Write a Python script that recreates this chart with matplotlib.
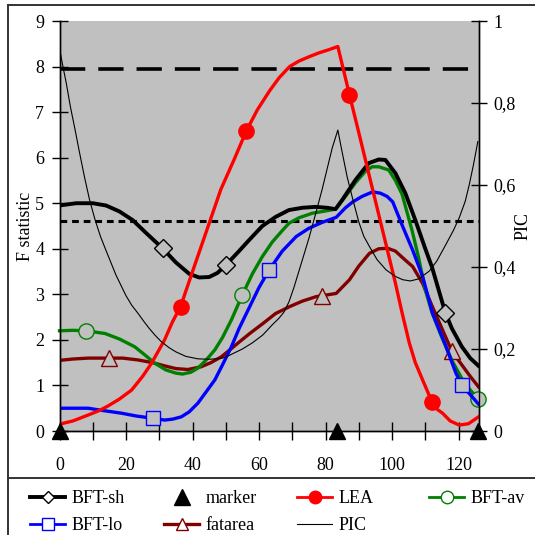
import matplotlib
matplotlib.use("Agg")
import matplotlib.pyplot as plt
from matplotlib.lines import Line2D
from matplotlib.ticker import FuncFormatter, MultipleLocator

plt.rcParams['font.family'] = ['Liberation Serif', 'DejaVu Serif']

# values
sh_x = [0, 5, 10, 14, 18, 22, 26, 31, 35, 39, 42, 45, 47.5, 50, 54, 57, 61, 65, 69, 73, 77, 80.5, 83,
        85, 89, 93, 96, 98, 101, 104, 107, 110, 112, 114, 116, 118, 121, 123.5, 126]
sh_y = [4.95, 5.0, 5.0, 4.95, 4.82, 4.63, 4.35, 4.01, 3.7, 3.45, 3.37, 3.38, 3.47, 3.64, 3.95, 4.19, 4.5,
        4.7, 4.85, 4.9, 4.92, 4.9, 4.87, 5.07, 5.51, 5.88, 5.96, 5.95, 5.66, 5.22, 4.63, 4.0, 3.6, 3.1,
        2.6, 2.25, 1.85, 1.6, 1.43]
sh_marks = [31, 50, 116]

av_x = [0, 4, 8, 13.7, 18, 22.6, 26, 28.6, 32, 35, 37, 39.5, 41.6, 44, 46.7, 49, 51.7, 55, 58, 61, 64, 67,
        69, 72, 76, 80, 83, 86, 89, 92, 94, 96, 99, 101, 103, 106, 108, 110, 112, 115, 118, 121, 123.5, 126]
av_y = [2.2, 2.21, 2.2, 2.14, 2.02, 1.85, 1.65, 1.49, 1.34, 1.27, 1.25, 1.29, 1.38, 1.55, 1.78, 2.05, 2.44,
        2.99, 3.45, 3.83, 4.15, 4.4, 4.56, 4.68, 4.78, 4.83, 4.87, 5.15, 5.45, 5.7, 5.8, 5.8, 5.73, 5.5,
        5.2, 4.41, 3.8, 3.1, 2.6, 2.05, 1.55, 1.15, 0.9, 0.7]
av_marks = [8, 55, 126]

lo_x = [0, 5, 8.6, 13, 18.7, 23, 28, 31.6, 34, 36.6, 39, 41.6, 44, 46.7, 49, 51.7, 54, 57.2, 60, 63, 67,
        71.2, 75, 79, 83.2, 86, 88.2, 91, 94.2, 96.5, 98.5, 100.2, 103.2, 106.2, 109.2, 112.2, 116, 119.2,
        121, 123.5, 126]
lo_y = [0.5, 0.5, 0.5, 0.45, 0.39, 0.33, 0.28, 0.24, 0.26, 0.31, 0.42, 0.61, 0.85, 1.12, 1.45, 1.85, 2.25,
        2.73, 3.15, 3.53, 3.95, 4.27, 4.45, 4.58, 4.69, 4.9, 5.03, 5.15, 5.25, 5.22, 5.15, 5.03, 4.49,
        3.97, 3.39, 2.58, 1.9, 1.27, 1.01, 0.8, 0.59]
lo_marks = [28, 63, 121]

fa_x = [0, 4, 8.6, 15, 19, 23.6, 28, 31.6, 35, 38.6, 42.6, 45.5, 48.7, 51.2, 54, 57.2, 61, 65, 69.2, 73,
        77.2, 79, 83.2, 87.2, 90, 93.2, 96, 98.7, 101, 104, 106.2, 109.2, 112, 115, 118, 121, 123.5, 126]
fa_y = [1.55, 1.58, 1.6, 1.6, 1.6, 1.56, 1.5, 1.43, 1.37, 1.35, 1.41, 1.5, 1.63, 1.78, 1.95, 2.14, 2.35,
        2.58, 2.73, 2.85, 2.95, 2.97, 3.02, 3.32, 3.62, 3.9, 4.0, 4.01, 3.95, 3.75, 3.61, 3.24, 2.75, 2.25,
        1.75, 1.45, 1.2, 0.97]
fa_marks = [15, 79, 118]

lea_x = [0, 4, 8.6, 12, 14.6, 18, 21.7, 25, 27.7, 31.6, 34, 36.4, 40, 45.2, 48.5, 52.7, 56.2, 59.5, 63.2,
         66, 69.2, 72, 75.2, 78, 81, 83.7, 87.2, 90, 93, 96, 99, 101, 103, 105.2, 107, 109.2, 112, 113.5,
         115.2, 117.5, 120.2, 123, 126]
lea_y = [0.15, 0.22, 0.35, 0.45, 0.55, 0.7, 0.9, 1.2, 1.49, 2.0, 2.4, 2.73, 3.5, 4.6, 5.3, 5.99, 6.59,
         7.05, 7.47, 7.75, 8.0, 8.12, 8.22, 8.3, 8.37, 8.44, 7.38, 6.55, 5.65, 4.75, 3.85, 3.25, 2.6, 1.93,
         1.5, 1.12, 0.64, 0.48, 0.39, 0.22, 0.13, 0.16, 0.31]
lea_marks = [36.4, 56.2, 87.2, 112]

pic_x = [0, 1, 2, 3.3, 4.7, 6, 7.5, 9, 10.7, 12.3, 14, 15.5, 17, 18.5, 20, 21.7, 23.6, 25.3, 27, 28.8,
         30.6, 33, 35, 38, 41.6, 45, 48.7, 51.2, 55, 58, 61.1, 64.1, 66, 67.5, 69, 70.5, 72, 73.5, 75,
         77.2, 79, 80.5, 82, 83.7, 85, 86.5, 88.2, 90, 91.5, 93.2, 95.5, 98.2, 101, 103.2, 105.5, 108,
         111.2, 113.5, 116.2, 118.5, 120.2, 122, 123.2, 124.5, 125.8]
pic_y = [0.933, 0.89, 0.85, 0.79, 0.734, 0.68, 0.62, 0.565, 0.515, 0.475, 0.44, 0.41, 0.38, 0.355, 0.33,
         0.307, 0.287, 0.268, 0.25, 0.233, 0.218, 0.203, 0.193, 0.182, 0.176, 0.175, 0.177, 0.185, 0.2,
         0.215, 0.234, 0.26, 0.275, 0.29, 0.315, 0.35, 0.39, 0.43, 0.47, 0.535, 0.59, 0.64, 0.69, 0.734,
         0.68, 0.62, 0.565, 0.51, 0.475, 0.45, 0.418, 0.393, 0.377, 0.369, 0.366, 0.371, 0.39, 0.415,
         0.455, 0.49, 0.52, 0.56, 0.6, 0.65, 0.706]

marker_x = [0, 83.5, 126]
marker_y = [0, 0, 0]

thresh_hi = 7.95
thresh_lo = 4.6

xticks = list(range(0, 130, 10))
xtick_labels = [str(t) if t % 20 == 0 else '' for t in xticks]
pic_ticks = [0, 0.2, 0.4, 0.6, 0.8, 1.0]

BG = '#C0C0C0'
FS = 13

fig = plt.figure(figsize=(5.35, 5.35), dpi=100)
W = 535.0
ax = fig.add_axes([59.5 / W, 104 / W, 419 / W, 410 / W])
ax.set_facecolor(BG)
ax.set_xlim(0, 126)
ax.set_ylim(0, 9)

ax.axhline(thresh_hi, color='black', lw=2.6, dashes=(7, 3.6), zorder=2)
ax.axhline(thresh_lo, color='black', lw=2.2, dashes=(2.2, 1.6), zorder=2)


def idx(xs, marks):
    return [xs.index(m) for m in marks]


ax.plot(fa_x, fa_y, color='#800000', lw=2.4, marker='^', ms=11, mfc=BG, mec='#800000', mew=1,
        markevery=idx(fa_x, fa_marks), zorder=3)
ax.plot(av_x, av_y, color='#008000', lw=2.4, marker='o', ms=11, mfc=BG, mec='#008000', mew=1,
        markevery=idx(av_x, av_marks), zorder=4, clip_on=False)
ax.plot(lo_x, lo_y, color='#0000FF', lw=2.4, marker='s', ms=10, mfc=BG, mec='#0000FF', mew=1,
        markevery=idx(lo_x, lo_marks), zorder=5)
ax.plot(sh_x, sh_y, color='black', lw=2.8, marker='D', ms=9, mfc=BG, mec='black', mew=1,
        markevery=idx(sh_x, sh_marks), zorder=6)
ax.plot(lea_x, lea_y, color='#FF0000', lw=2.4, marker='o', ms=11, mfc='#FF0000', mec='#FF0000',
        markevery=idx(lea_x, lea_marks), zorder=7)
ax.plot(marker_x, marker_y, linestyle='none', marker='^', ms=12, color='black', clip_on=False, zorder=10)

ax2 = ax.twinx()
ax2.set_ylim(0, 1)
ax2.plot(pic_x, pic_y, color='black', lw=0.8)

for a in (ax, ax2):
    a.spines['top'].set_visible(False)
    for s in a.spines.values():
        s.set_linewidth(1.0)

ax.set_xticks(xticks)
ax.set_xticklabels(xtick_labels)
ax.yaxis.set_major_locator(MultipleLocator(1))
ax.tick_params(axis='x', direction='inout', length=13, width=1, pad=12, labelsize=FS)
ax.tick_params(axis='y', direction='inout', length=12, width=1, pad=5, labelsize=FS)
ax2.set_yticks(pic_ticks)
ax2.yaxis.set_major_formatter(FuncFormatter(lambda v, p: ('%g' % v).replace('.', ',')))
ax2.tick_params(axis='y', direction='inout', length=12, width=1, pad=5, labelsize=FS)

ax.set_ylabel('F statistic', fontsize=13)
ax2.set_ylabel('PIC', fontsize=13)
ax.yaxis.label.set_va('center')
ax2.yaxis.label.set_va('center')
ax.yaxis.set_label_coords((25 - 59.5) / 419, 0.5)
ax2.yaxis.set_label_coords((523 - 59.5) / 419, 0.5)

# frame lines of the picture
fc = '#333333'
fig.add_artist(Line2D([8 / W, 8 / W], [0, 1 - 5 / W], color=fc, lw=1.4, transform=fig.transFigure))
fig.add_artist(Line2D([8 / W, 1], [1 - 5 / W, 1 - 5 / W], color=fc, lw=1.4, transform=fig.transFigure))
fig.add_artist(Line2D([8 / W, 1], [1 - 478 / W, 1 - 478 / W], color=fc, lw=1.4, transform=fig.transFigure))

# legend, one column at a time
def h(**kw):
    return Line2D([], [], **kw)

cols = [
    ([h(color='black', lw=2.8, marker='D', ms=6, mfc='white', mec='black', mew=1),
      h(color='#0000FF', lw=2, marker='s', ms=8, mfc='white', mec='#0000FF', mew=1)],
     ['BFT-sh', 'BFT-lo'], 30),
    ([h(linestyle='none', marker='^', ms=11, color='black'),
      h(color='#800000', lw=2.4, marker='^', ms=9, mfc='white', mec='#800000', mew=1)],
     ['marker', 'fatarea'], 164),
    ([h(color='#FF0000', lw=2, marker='o', ms=9, mfc='#FF0000', mec='#FF0000'),
      h(color='black', lw=0.8)],
     ['LEA', 'PIC'], 297),
    ([h(color='#008000', lw=2, marker='o', ms=9, mfc='white', mec='#008000', mew=1)],
     ['BFT-av'], 429),
]
for hs, labs, px in cols:
    fig.legend(hs, labs, loc='upper left', bbox_to_anchor=(px / W, 1 - 490 / W),
               frameon=False, fontsize=FS, handlelength=1.95, handletextpad=0.35,
               labelspacing=0.55, borderpad=0, borderaxespad=0)

fig.savefig('out.png', dpi=100)
